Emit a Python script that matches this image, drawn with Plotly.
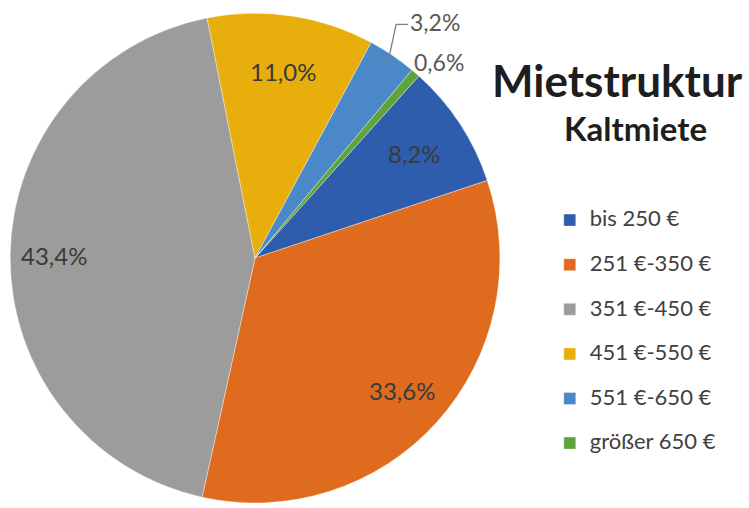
import math
import plotly.graph_objects as go

categories = ["bis 250 €", "251 €-350 €", "351 €-450 €", "451 €-550 €", "551 €-650 €", "größer 650 €"]
shares = [8.2, 33.6, 43.4, 11.0, 3.2, 0.6]
colors = ["#2E5DAD", "#DF6B1F", "#9C9C9C", "#E7AE0C", "#4A88C8", "#5FA33D"]

# label placement styles (radius factor, pixel shifts)
label_r = [0.78, 0.81, 0.82, 0.77, 0.97, 1.13]
label_shift = [(0, 0), (0, 0), (0, 0), (0, 0), (0, 0), (3, 13)]

W, H = 749, 508
dom_x = [0.0134, 0.6676]
dom_y = [0.01, 0.974]
ROT = 42

fig = go.Figure(go.Pie(
    labels=["<span style='font-size:22px'>" + c + "</span><br> " for c in categories],
    values=shares,
    sort=False,
    direction="clockwise",
    rotation=ROT,
    marker=dict(colors=colors, line=dict(color="rgba(255,255,255,0.6)", width=0.6)),
    textinfo="none",
    domain=dict(x=dom_x, y=dom_y),
    hoverinfo="percent",
))

# pie geometry in pixels
cx = (dom_x[0] + dom_x[1]) / 2 * W
cy = (1 - (dom_y[0] + dom_y[1]) / 2) * H
R = min((dom_x[1] - dom_x[0]) * W, (dom_y[1] - dom_y[0]) * H) / 2


def to_paper(px, py):
    return px / W, 1 - py / H


total = sum(shares)
annotations = []
shapes = []
cum = 0.0
for i, v in enumerate(shares):
    mid = math.radians(ROT + (cum + v / 2) / total * 360)
    cum += v
    txt = f"{v:.1f}%".replace(".", ",")
    r = label_r[i] * R
    px = cx + r * math.sin(mid) + label_shift[i][0]
    py = cy - r * math.cos(mid) + label_shift[i][1]
    if i == 4:
        # outside label with bent leader line
        ex, ey = to_paper(px, py)
        bx, by = to_paper(px + 8, py - 37)
        tx, ty = to_paper(px + 20, py - 37)
        shapes.append(dict(type="path", xref="paper", yref="paper",
                           path=f"M {ex} {ey} L {bx} {by} L {tx} {ty}",
                           line=dict(color="#7F7F7F", width=1.3)))
        annotations.append(dict(
            x=tx, y=ty, xref="paper", yref="paper", text=txt, showarrow=False,
            xanchor="left", yanchor="middle", yshift=2,
            font=dict(family="Lato", size=23, color="#595959")))
    elif i == 5:
        x, y = to_paper(px, py)
        annotations.append(dict(
            x=x, y=y, xref="paper", yref="paper", text=txt, showarrow=False,
            xanchor="center", yanchor="middle",
            font=dict(family="Lato", size=23, color="#595959")))
    else:
        x, y = to_paper(px, py)
        annotations.append(dict(
            x=x, y=y, xref="paper", yref="paper", text=txt, showarrow=False,
            xanchor="center", yanchor="middle",
            font=dict(family="Lato", size=24, color="#3A3A3A")))

annotations += [
    dict(text="<b>Mietstruktur</b>", x=0.824, y=0.842, xref="paper", yref="paper",
         xanchor="center", yanchor="middle",
         showarrow=False, font=dict(family="Lato", size=44, color="#1E1E1E")),
    dict(text="<b>Kaltmiete</b>", x=0.848, y=0.748, xref="paper", yref="paper",
         xanchor="center", yanchor="middle",
         showarrow=False, font=dict(family="Lato", size=33, color="#1E1E1E")),
]

fig.update_layout(
    width=W, height=H,
    margin=dict(l=0, r=0, t=0, b=0),
    paper_bgcolor="white",
    showlegend=True,
    legend=dict(x=0.734, y=0.6, xanchor="left", yanchor="top", valign="top",
                font=dict(family="Lato", size=16, color="#404040"),
                itemwidth=30, traceorder="normal"),
    annotations=annotations,
    shapes=shapes,
)

fig.write_html("out.html")
